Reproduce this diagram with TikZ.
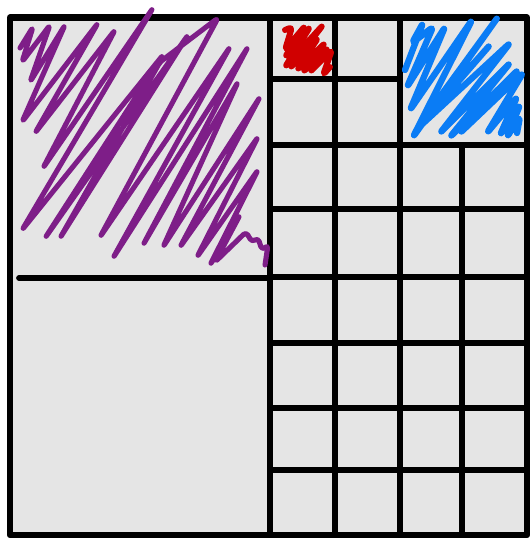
\documentclass[tikz,border=0pt]{standalone}
\usepackage{xcolor}
\usepackage{tikz}
\usetikzlibrary{positioning}
\definecolor{cellgray}{HTML}{E5E5E5}
\definecolor{inkpurple}{HTML}{7E1E88}
\definecolor{inkblue}{HTML}{0A7CF5}
\definecolor{inkred}{HTML}{D00000}
\tikzset{
    gridline/.style={line width=3.3pt, color=black, line cap=round},
    frame/.style={line width=3.6pt, color=black, fill=cellgray, line join=round},
    scribble/.style={line width=2.9pt, line cap=round, line join=round, rounded corners=2pt}
}

\begin{document}
\begin{tikzpicture}[x=0.02cm, y=-0.02cm]

\useasboundingbox (0,0) rectangle (530,544);

% ── Outer square ──
\draw[frame] (10,17.5) rectangle (527,535);

% ── Left half ──
\draw[gridline] (270,17.5) -- (270,535);
\draw[gridline] (19,278) -- (270,278);

% ── Top right block ──
\draw[gridline] (335,17.5) -- (335,535);
\draw[gridline] (400,17.5) -- (400,535);
\draw[gridline] (270,79) -- (400,79);

% ── Fine grid ──
\draw[gridline] (462,145) -- (462,535);
\foreach \y in {145,209,277,343,408,470} {
    \draw[gridline] (270,\y) -- (527,\y);
}

% ── Purple scribble ──
\draw[scribble, inkpurple] (20,48) -- (33,27) -- (22,62) -- (50,25) -- (30,82) -- (65,25)
    -- (22,122) -- (98,23) -- (35,133) -- (115,30) -- (43,168) -- (153,8)
    -- (22,230) -- (163,55) -- (45,238) -- (188,35) -- (60,238) -- (160,62)
    -- (218,18) -- (100,237) -- (230,47) -- (113,258) -- (248,47) -- (143,245)
    -- (238,82) -- (163,247) -- (260,97) -- (180,247) -- (258,137) -- (197,257)
    -- (258,170) -- (210,265) -- (240,215) -- (215,262) -- (246,232) -- (252,242)
    -- (258,238) -- (262,250) -- (268,245) -- (265,265);

% ── Blue scribble ──
\draw[scribble, inkblue, line width=3.6pt] (405,70) -- (423,23) -- (412,43) -- (433,27)
    -- (407,87) -- (445,27) -- (410,110) -- (472,20) -- (413,137) -- (498,17)
    -- (423,120) -- (490,45) -- (418,128) -- (510,43) -- (440,133) -- (510,63)
    -- (450,137) -- (518,70) -- (460,133) -- (523,73) -- (487,133) -- (517,97)
    -- (500,135) -- (520,105) -- (507,137) -- (520,117) -- (517,133);

% ── Red scribble ──
\draw[scribble, inkred, line width=3.4pt] (285,30) -- (292,27) -- (285,50) -- (305,26)
    -- (285,57) -- (310,27) -- (285,67) -- (323,25) -- (290,68) -- (318,38)
    -- (297,70) -- (325,43) -- (303,72) -- (328,48) -- (310,72) -- (332,50)
    -- (323,75) -- (330,67);

\end{tikzpicture}
\end{document}
